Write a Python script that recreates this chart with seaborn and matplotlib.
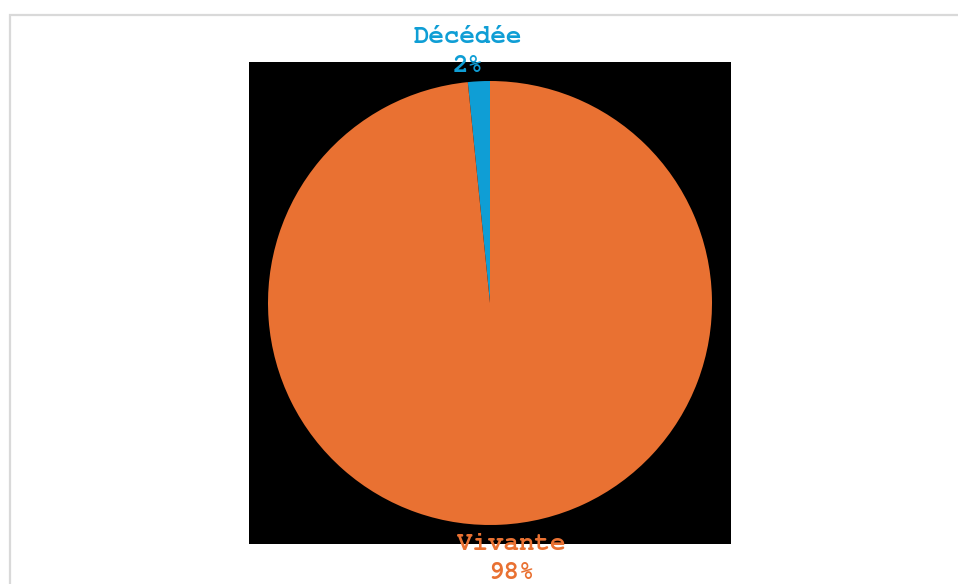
import matplotlib
matplotlib.use("Agg")
import matplotlib.pyplot as plt
from matplotlib.patches import Rectangle
import seaborn as sns

# Survival status counts
statuses = ["Décédée", "Vivante"]
counts = [3, 185]
colors = ["#0F9ED5", "#E97132"]

sns.set_theme(style="white")
plt.rcParams["font.family"] = ["Courier New", "Nimbus Mono PS", "FreeMono",
                               "Liberation Mono", "DejaVu Sans Mono"]

W, H = 958, 584
fig = plt.figure(figsize=(W / 100, H / 100), dpi=100)
fig.patch.set_facecolor("white")

# light chart-area frame
fig.patches.append(Rectangle((9.5 / W, -0.2), 1.2, (H - 14.5) / H + 0.2,
                             transform=fig.transFigure, fill=False,
                             edgecolor="#D9D9D9", linewidth=1.6))

ax = fig.add_axes([249 / W, (H - 544) / H, 482 / W, 482 / H])
ax.set_facecolor("black")

wedges, _ = ax.pie(counts, colors=colors, startangle=90, counterclock=True,
                   radius=1.0, frame=True, wedgeprops=dict(linewidth=0))
lim = 241 / 222
ax.set_xlim(-lim, lim)
ax.set_ylim(-lim, lim)
ax.set_aspect("equal")
ax.set_xticks([])
ax.set_yticks([])
for s in ax.spines.values():
    s.set_visible(False)

total = sum(counts)
label_pos = [(-0.099, 1.132), (0.095, -1.151)]
for name, c, col, (x, y) in zip(statuses, counts, colors, label_pos):
    pct = round(100 * c / total)
    ax.text(x, y, f"{name}\n{pct}%", color=col, ha="center", va="center",
            fontsize=18.5, fontweight="bold", linespacing=1.4, clip_on=False)

fig.savefig("out.png", dpi=100, facecolor="white")
